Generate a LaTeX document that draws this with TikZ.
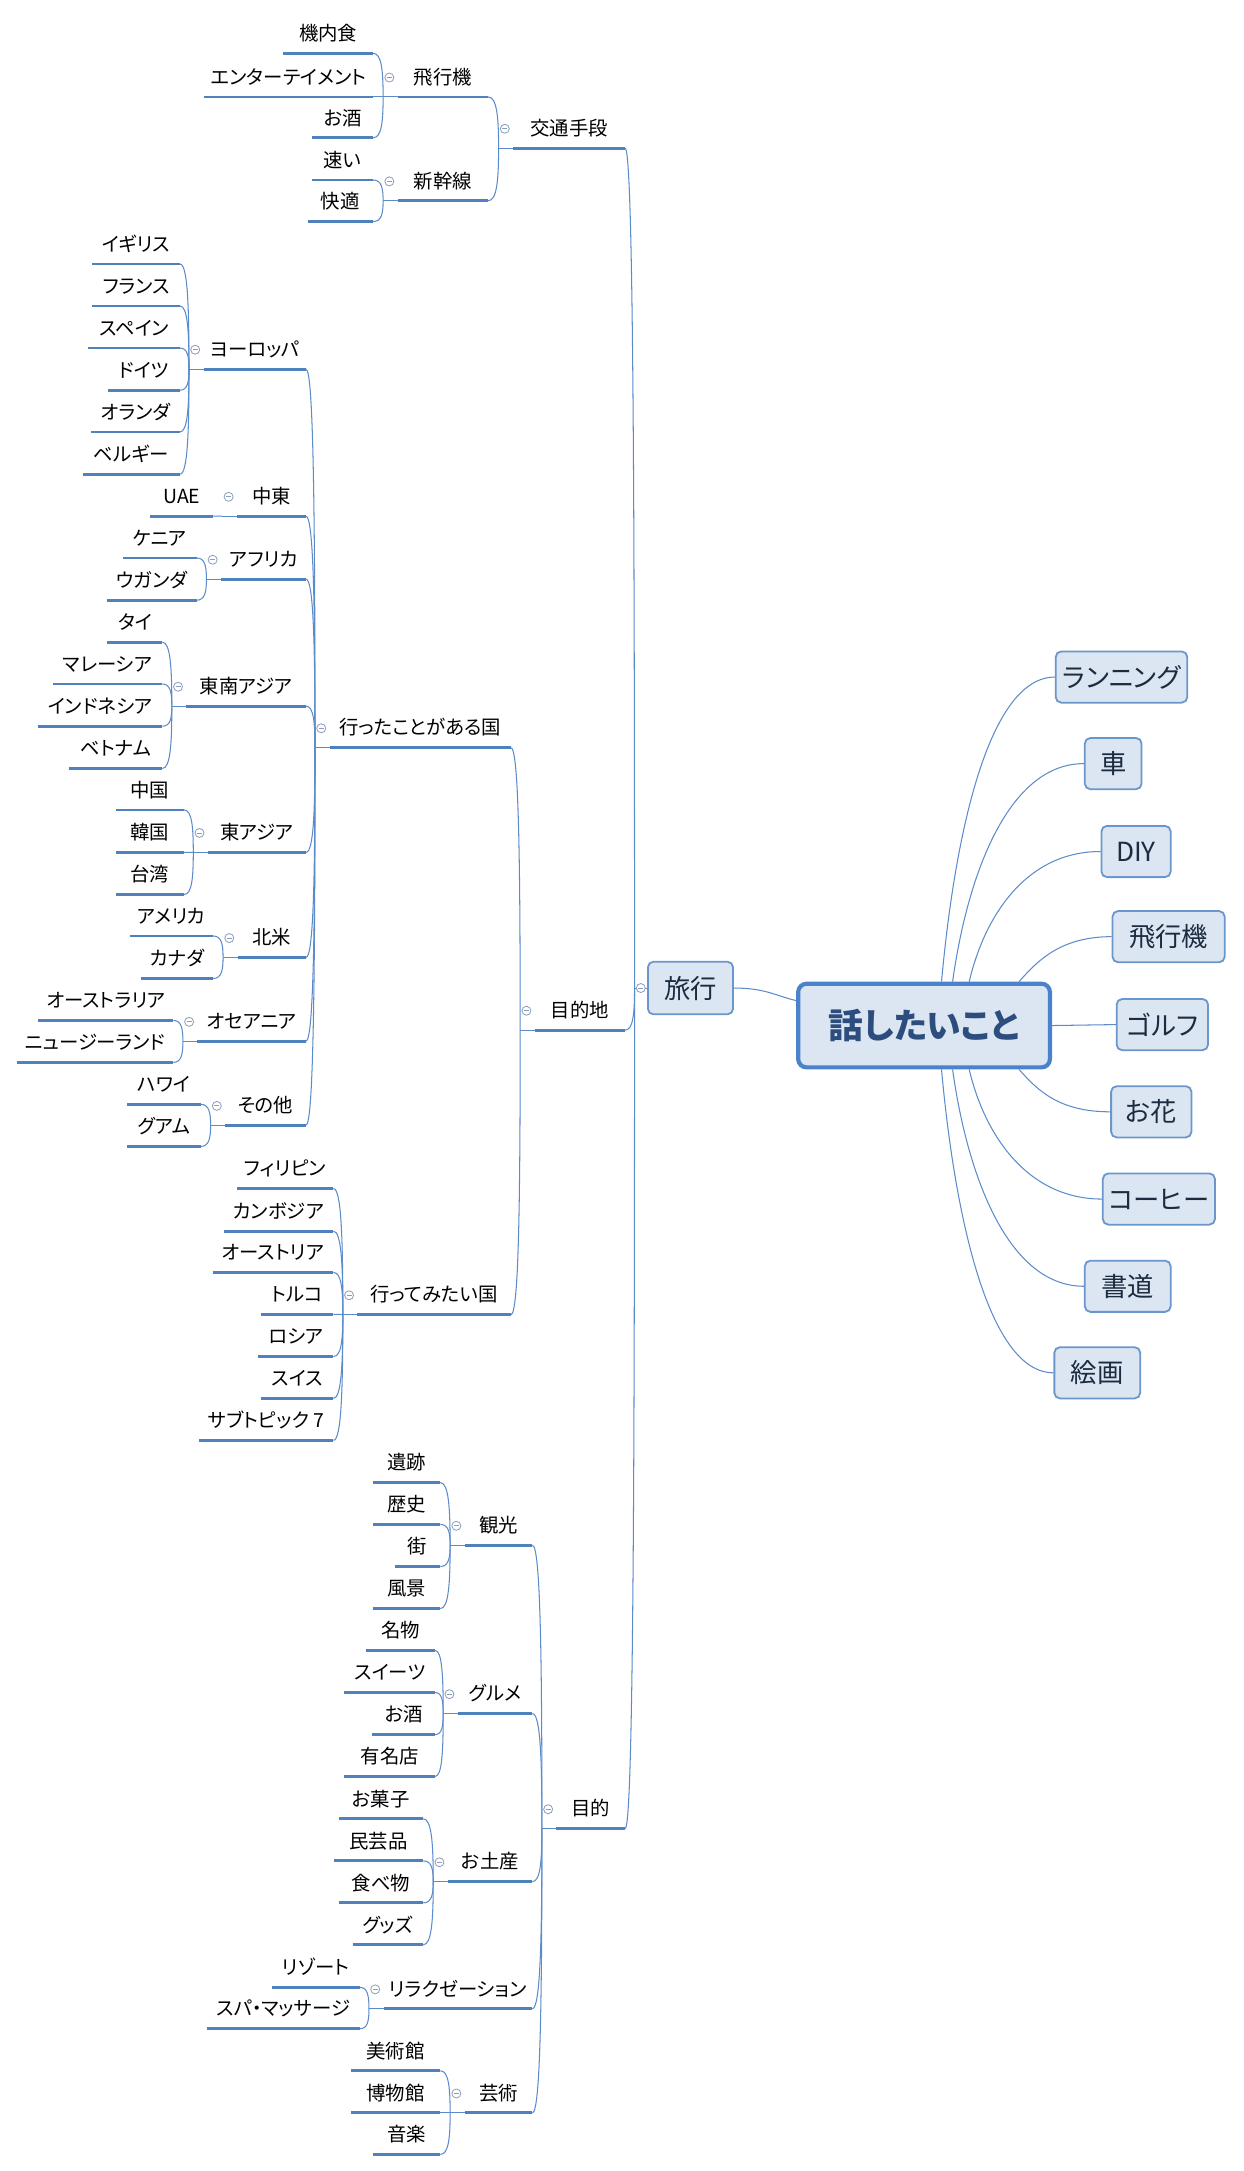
\documentclass[tikz,border=0pt]{standalone}
\usepackage{fontspec}
\newfontfamily\jp{Noto Sans CJK JP}
\newfontfamily\jpp{Noto Sans CJK JP}[RawFeature=+palt]
\usetikzlibrary{calc}
\definecolor{ulcol}{HTML}{4F81BD}
\definecolor{conncol}{HTML}{5B8BC9}
\definecolor{minuscol}{HTML}{8CA0BE}
\definecolor{boxfill}{HTML}{DCE6F2}
\definecolor{boxborder}{HTML}{6A96CC}
\definecolor{rootborder}{HTML}{4A82CB}
\definecolor{roottext}{HTML}{2C4D7E}
\definecolor{boxtext}{HTML}{1C2B40}
\tikzset{
  uln/.style={draw=ulcol, line width=2pt},
  conn/.style={draw=conncol, line width=0.75pt},
  topic/.style={anchor=south east, inner xsep=0pt, inner ysep=0pt,
    text height=12pt, text depth=9pt, font=\jpp\fontsize{14}{16}\selectfont,
    append after command={(\tikzlastnode.south west) edge[uln] (\tikzlastnode.south east)}},
  collapse/.style={circle, draw=minuscol, fill=white, line width=0.6pt, inner sep=0pt,
    minimum size=6.5pt,
    path picture={\draw[minuscol, line width=0.6pt]
      ([xshift=-1.8pt]path picture bounding box.center) -- ([xshift=1.8pt]path picture bounding box.center);}},
  box/.style={draw=boxborder, fill=boxfill, rounded corners=4pt, line width=1.3pt,
    inner sep=0pt, minimum height=37pt, font=\jpp\fontsize{19}{21}\selectfont, text=boxtext},
  rootbox/.style={draw=rootborder, fill=boxfill, rounded corners=6pt, line width=3pt,
    inner sep=0pt, minimum width=181.8pt, minimum height=60.4pt,
    font=\jpp\bfseries\fontsize{25}{27}\selectfont, text=roottext},
}
\newcommand\tp[5]{\node[topic, minimum width={#3pt-#2pt}] (#1) at (#3,#4) {#5};}
\newcommand\lk[2]{\draw[conn] (#1.south east) .. controls ($(#1.south east)!0.85!(#1.south east -| #2)$) and ($(#2)!0.6!(#2 |- #1.south east)$) .. (#2);}
\begin{document}
\begin{tikzpicture}[x=1pt,y=-1pt]
\useasboundingbox (0,0) rectangle (898,1568);

% central topic and main boxes
\node[rootbox] (root) at (667.4,740.7) {話したいこと};
\node[box, minimum width=61.5pt, minimum height=38pt] (travel) at (498.7,713.6) {旅行};

\node[box, minimum width=95pt] (run) at (810,489) {ランニング};
\node[box, minimum width=41pt] (car) at (804,551.5) {車};
\node[box, minimum width=50pt] (diy) at (820.5,615) {DIY};
\node[box, minimum width=81pt] (plane) at (844,676.5) {飛行機};
\node[box, minimum width=66pt] (golf) at (839.5,740) {ゴルフ};
\node[box, minimum width=58pt] (flower) at (831.5,803) {お花};
\node[box, minimum width=81pt] (coffee) at (837,866) {コーヒー};
\node[box, minimum width=62pt] (shodo) at (814.5,929) {書道};
\node[box, minimum width=62pt] (kaiga) at (792.5,991.5) {絵画};

\draw[conn] ([xshift=12.6pt]root.north) .. controls +(10,-110) and +(-47,0) .. (run.west);
\draw[conn] ([xshift=20.6pt]root.north) .. controls +(11,-79) and +(-54,0) .. (car.west);
\draw[conn] ([xshift=32.6pt]root.north) .. controls +(11,-47) and +(-54,0) .. (diy.west);
\draw[conn] ([xshift=68.6pt]root.north) .. controls +(14,-16) and +(-36,0) .. (plane.west);
\draw[conn] (root.east) -- (golf.west);
\draw[conn] ([xshift=68.6pt]root.south) .. controls +(14,16) and +(-36,0) .. (flower.west);
\draw[conn] ([xshift=32.6pt]root.south) .. controls +(11,47) and +(-54,0) .. (coffee.west);
\draw[conn] ([xshift=20.6pt]root.south) .. controls +(11,79) and +(-54,0) .. (shodo.west);
\draw[conn] ([xshift=12.6pt]root.south) .. controls +(10,110) and +(-46,0) .. (kaiga.west);

\draw[conn] (travel.east) .. controls +(22,0) and +(-16,-4) .. ([yshift=18pt]root.west);

% subtopics
\tp{kotsu}{371}{451.5}{107}{交通手段}
\tp{mokutekichi}{386.6}{451.5}{744}{目的地}
\tp{mokuteki}{402.3}{451.5}{1320.7}{目的}

\tp{hikoki}{287.6}{352.5}{70}{飛行機}
\tp{shinkansen}{287.6}{352.5}{145}{新幹線}
\tp{kinai}{205}{269.5}{38.5}{機内食}
\tp{enter}{148}{269.5}{70}{エンターテイメント}
\tp{sake1}{225.5}{269.5}{99.5}{お酒}
\tp{hayai}{225.5}{269.5}{130}{速い}
\tp{kaiteki}{222.5}{269.5}{160}{快適}

\tp{itta}{238.4}{369}{540}{行ったことがある国}
\tp{mitai}{258.5}{369}{949.5}{行ってみたい国}

\tp{europe}{147.4}{221}{266.6}{ヨーロッパ}
\tp{uk}{67}{130}{190.7}{イギリス}
\tp{fr}{67}{130}{221}{フランス}
\tp{es}{64}{130}{251.4}{スペイン}
\tp{de}{78.5}{130}{281.8}{ドイツ}
\tp{nl}{66}{130}{312}{オランダ}
\tp{be}{60}{130}{342.5}{ベルギー}
\tp{chuto}{171.5}{221}{372.8}{中東}
\tp{uae}{109}{154}{372.8}{UAE}
\tp{africa}{160}{221}{418.3}{アフリカ}
\tp{kenya}{89}{142}{403}{ケニア}
\tp{uganda}{77.5}{142}{433.5}{ウガンダ}
\tp{sea}{135}{221}{510}{東南アジア}
\tp{thai}{78}{117.3}{463.8}{タイ}
\tp{malay}{38.5}{117.3}{494}{マレーシア}
\tp{indo}{27.7}{117.3}{524.5}{インドネシア}
\tp{viet}{50}{117.3}{555}{ベトナム}
\tp{ea}{150.5}{221}{615.6}{東アジア}
\tp{cn}{84}{133}{585}{中国}
\tp{kr}{84}{133}{615.6}{韓国}
\tp{tw}{84}{133}{646}{台湾}
\tp{na}{172}{221}{691.5}{北米}
\tp{us}{94}{154}{676}{アメリカ}
\tp{ca}{102}{154}{706.7}{カナダ}
\tp{oce}{143}{221}{752}{オセアニア}
\tp{au}{28.2}{125.2}{737}{オーストラリア}
\tp{nz}{12.8}{125.2}{767.3}{ニュージーランド}
\tp{other}{163}{221}{812.7}{その他}
\tp{hawaii}{92}{145}{797.6}{ハワイ}
\tp{guam}{92}{145}{828}{グアム}

\tp{ph}{171.7}{240.8}{858.4}{フィリピン}
\tp{kh}{161.9}{240.8}{889.2}{カンボジア}
\tp{at}{154}{240.8}{919}{オーストリア}
\tp{tr}{189}{240.8}{949.3}{トルコ}
\tp{ru}{187}{240.8}{979.7}{ロシア}
\tp{ch}{189}{240.8}{1010}{スイス}
\tp{sub}{144}{240.8}{1040.3}{サブトピック 7}

\tp{kanko}{336}{384.5}{1116}{観光}
\tp{iseki}{269.5}{318}{1070.8}{遺跡}
\tp{rekishi}{269.5}{318}{1101}{歴史}
\tp{machi}{285.4}{318}{1131.4}{街}
\tp{fukei}{269.5}{318}{1161.8}{風景}
\tp{gourmet}{331}{384.5}{1237.6}{グルメ}
\tp{meibutsu}{265}{314.3}{1192}{名物}
\tp{sweets}{249.2}{314.3}{1222.4}{スイーツ}
\tp{sake2}{268.8}{314.3}{1252.8}{お酒}
\tp{yumei}{249.2}{314.3}{1283}{有名店}
\tp{omiyage}{323.8}{384.5}{1359}{お土産}
\tp{okashi}{245}{305.7}{1313.6}{お菓子}
\tp{mingei}{241.3}{305.7}{1344}{民芸品}
\tp{tabemono}{245}{305.7}{1374.3}{食べ物}
\tp{goods}{255}{305.7}{1404.6}{グッズ}
\tp{relax}{277.4}{384.5}{1450.8}{リラクゼーション}
\tp{resort}{196.5}{260}{1435.4}{リゾート}
\tp{spa}{149.6}{260}{1465.2}{スパ・マッサージ}
\tp{geijutsu}{336}{384.5}{1526}{芸術}
\tp{bijutsu}{253.6}{318}{1495.6}{美術館}
\tp{hakubutsu}{253.6}{318}{1526}{博物館}
\tp{ongaku}{269.5}{318}{1556}{音楽}

% junctions
\coordinate (j-travel) at ([xshift=-9pt]travel.west);
\draw[conn] (j-travel) -- (travel.west);
\foreach \p in {kotsu,mokutekichi,mokuteki,hikoki,shinkansen,itta,mitai,europe,chuto,africa,sea,ea,na,oce,other,kanko,gourmet,omiyage,relax,geijutsu}{
  \coordinate (j-\p) at ([xshift=-10.5pt]\p.south west);
  \draw[conn] (j-\p) -- (\p.south west);
}

% connectors
\foreach \p/\c in {travel/kotsu,travel/mokutekichi,travel/mokuteki,
  kotsu/hikoki,kotsu/shinkansen,hikoki/kinai,hikoki/enter,hikoki/sake1,
  shinkansen/hayai,shinkansen/kaiteki,
  mokutekichi/itta,mokutekichi/mitai,
  itta/europe,itta/chuto,itta/africa,itta/sea,itta/ea,itta/na,itta/oce,itta/other,
  europe/uk,europe/fr,europe/es,europe/de,europe/nl,europe/be,
  chuto/uae,africa/kenya,africa/uganda,
  sea/thai,sea/malay,sea/indo,sea/viet,
  ea/cn,ea/kr,ea/tw,na/us,na/ca,oce/au,oce/nz,other/hawaii,other/guam,
  mitai/ph,mitai/kh,mitai/at,mitai/tr,mitai/ru,mitai/ch,mitai/sub,
  mokuteki/kanko,mokuteki/gourmet,mokuteki/omiyage,mokuteki/relax,mokuteki/geijutsu,
  kanko/iseki,kanko/rekishi,kanko/machi,kanko/fukei,
  gourmet/meibutsu,gourmet/sweets,gourmet/sake2,gourmet/yumei,
  omiyage/okashi,omiyage/mingei,omiyage/tabemono,omiyage/goods,
  relax/resort,relax/spa,
  geijutsu/bijutsu,geijutsu/hakubutsu,geijutsu/ongaku}{
  \lk{\c}{j-\p}
}

% collapse markers
\node[collapse] (c-travel) at ([xshift=-4.5pt]travel.west) {};
\foreach \p in {kotsu,mokutekichi,mokuteki,hikoki,shinkansen,itta,mitai,europe,chuto,africa,sea,ea,na,oce,other,kanko,gourmet,omiyage,relax,geijutsu}{
  \node[collapse] (c-\p) at ([xshift=-6pt,yshift=14pt]\p.south west) {};
}
\end{tikzpicture}
\end{document}
